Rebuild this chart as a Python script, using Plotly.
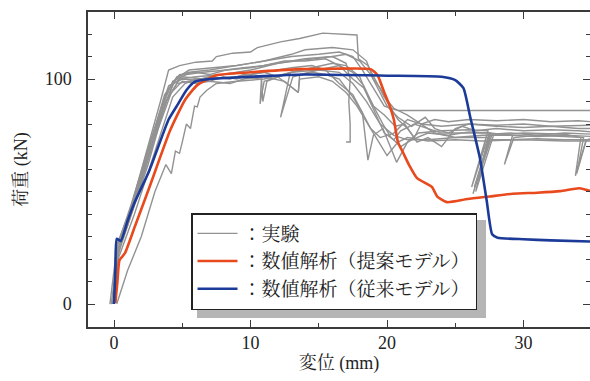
import plotly.graph_objects as go

# ---------------- data ----------------
BLUE_X = [0, 0.1, 0.2, 0.5, 1.0, 1.5, 2.6, 4.0, 4.7, 5.3, 5.9, 7.0, 10.0, 14.0, 20.0, 24.0, 25.0, 25.6,
          26.1, 26.8, 27.3, 27.7, 28.1, 30.0, 32.0, 35.0]
BLUE_Y = [0, 15, 29, 28, 37, 45, 59.5, 82, 89, 95, 98.7, 100, 101, 102, 101.5, 101, 99.5, 96,
          83, 65, 46, 31, 29.5, 28.8, 28.3, 27.8]

RED_X = [0.1, 0.25, 0.4, 0.8, 1.5, 2.6, 4.1, 5.2, 6.1, 7.5, 10.0, 13.6, 16.0, 18.8, 19.3, 19.8, 20.2,
         20.5, 20.8, 21.2, 21.6, 22.2, 22.9, 23.3, 23.7, 24.4, 25.9, 27.5, 29.2, 31.0, 32.7, 34.1, 34.9]
RED_Y = [0.5, 10, 19.5, 22.6, 34, 52, 77, 90.7, 97.3, 101.7, 103, 104.4, 104.6, 104.4, 101.8, 94, 88,
         82, 72, 67, 62, 56, 53.5, 52, 47.6, 45.3, 46.7, 47.8, 49, 49.5, 50.2, 51.5, 50.2]

EXP01_X = [-0.1, 0.2, 1.2, 2.5, 3.4, 4.0, 4.8, 6.0, 7.2, 7.5, 8.7, 10.0, 10.5, 12.2, 13.6, 15.3, 17.8, 17.9,
           18.6, 19.2, 19.8, 20.5, 21.5, 22.5, 24.0, 26.0, 28.0, 30.0, 32.0, 35.0]
EXP01_Y = [0, 22, 42, 70, 90, 104, 106, 107.5, 108, 110, 111.5, 112, 114, 116.5, 118, 120.4, 119.6, 109,
           106, 99, 92, 87, 84, 80, 79, 80, 79.5, 80, 79, 79.5]

EXP02_X = [0, 0.1, 0.5, 1.5, 3.0, 4.2, 4.6, 5.5, 7.0, 9.0, 11.0, 13.0, 15.0, 16.5, 17.5, 18.2, 19.0, 19.8,
           20.8, 21.5, 24.0, 28.0, 32.0, 35.0]
EXP02_Y = [0, 18, 28, 45, 75, 96, 101, 103, 104, 106, 108, 110, 111, 112, 110, 104, 96, 88,
           86, 86, 86, 86, 86, 86]

EXP03_X = [-0.2, 0.3, 1.0, 2.5, 3.8, 4.8, 6.0, 8.0, 10.0, 12.0, 14.0, 16.0, 17.0, 17.3, 17.2, 17.3, 17.3, 17.0]
EXP03_Y = [0, 24, 35, 62, 90, 100, 101, 102, 104, 107, 108.5, 110, 107, 100, 90, 80, 72, 72]

EXP04_X = [0, 0.2, 1.3, 2.8, 4.0, 5.0, 6.0, 7.0, 8.5, 9.5, 10.8, 10.9, 11.2, 12.0, 13.0, 14.5, 16.0, 17.0,
           18.0, 18.6, 19.2, 19.8, 20.5, 21.0, 22.0, 23.0, 24.0, 26.0, 27.5, 26.5, 27.8, 30.0, 33.0, 34.2,
           33.8, 34.6, 35.0]
EXP04_Y = [0, 25, 45, 75, 97, 100, 99.5, 101, 100, 102, 101, 90, 99, 101, 103, 105, 107, 106,
           101, 92, 84, 76, 73, 77, 80, 78, 76, 76, 76, 50, 75, 76, 75.5, 74,
           57, 73, 73]

EXP05_X = [0, 0.3, 1.5, 3.0, 4.3, 5.2, 6.0, 7.0, 8.0, 9.0, 10.0, 11.0, 12.0, 13.5, 13.6, 15.0, 16.5,
           17.5, 18.3, 19.0, 19.7, 20.3, 21.0, 21.8, 23.0, 24.5, 26.0, 27.6, 26.3, 27.7, 29.0, 31.0, 33.0, 35.0]
EXP05_Y = [0, 20, 40, 68, 92, 98, 100, 99, 101, 100, 102, 103, 101, 94, 102, 104, 106,
           103, 97, 88, 80, 74, 70, 73, 76, 75, 76.5, 76, 49, 75.5, 76, 75, 76, 75.5]

EXP06_X = [0.2, 1.0, 2.0, 3.0, 3.8, 4.2, 4.5, 4.8, 5.0, 5.3, 5.6, 5.9, 6.1, 6.3, 6.8, 7.5, 9.0, 11.0, 13.0,
           15.0, 16.5, 17.5, 18.5, 19.5, 20.5, 21.5, 23.0, 25.0, 27.5, 26.4, 27.6, 29.0, 31.0, 33.0, 35.0]
EXP06_Y = [0, 15, 30, 50, 62, 58, 68, 67, 72, 80, 78, 88, 87.6, 92, 95, 98, 99, 100, 103,
           104, 103, 98, 90, 80, 75, 73, 73, 74, 74, 52, 73, 73, 73.5, 73, 73]

EXP07_X = [0, 0.15, 0.8, 2.0, 3.5, 4.5, 5.5, 7.0, 9.0, 11.0, 13.0, 14.0, 16.0, 17.5, 18.5, 19.0, 19.5,
           20.0, 20.8, 21.5, 22.0, 22.5, 23.5, 24.5, 26.0, 28.0, 30.0, 32.0, 34.0, 35.0]
EXP07_Y = [0, 26, 33, 55, 85, 100, 104, 105, 106, 108, 111, 113, 114, 113, 108, 100, 96,
           90, 82, 78, 74, 80, 82, 81, 82, 81.5, 82, 81, 81.5, 81]

EXP08_X = [0, 0.2, 1.0, 2.3, 3.6, 4.6, 5.5, 7.0, 9.0, 11.0, 13.0, 14.5, 15.5, 16.5, 17.5, 18.2, 18.6,
           19.0, 19.7, 20.7, 21.5, 22.3, 24.0, 26.0, 27.4, 26.2, 27.5, 29.2, 28.6, 29.3, 31.0, 33.0,
           34.4, 33.9, 34.6, 35.0]
EXP08_Y = [0, 23, 38, 62, 88, 98, 99, 100, 101, 103, 105, 106, 104, 98, 93, 85, 64,
           75, 78, 63, 72, 76, 77, 77.5, 77, 52, 76, 75, 62, 74, 75, 74.5,
           74, 58, 73, 73.5]

EXP09_X = [0, 0.1, 0.6, 2.0, 3.3, 4.3, 5.3, 6.5, 8.0, 10.0, 12.0, 14.0, 16.0, 17.0, 18.0, 18.8, 19.4,
           20.0, 20.8, 21.8, 22.8, 23.5, 24.5, 25.5, 26.5, 28.0, 30.0, 32.0, 34.0, 35.0]
EXP09_Y = [0, 15, 30, 58, 84, 99, 102, 103, 104, 105, 107, 109, 110, 111, 108, 102, 95,
           88, 83, 79, 83, 78, 76, 79, 77, 78, 77, 77.5, 77, 76.5]

EXP10_X = [-0.3, 0.1, 1.0, 2.4, 3.7, 4.8, 6.0, 7.0, 8.2, 9.5, 11.0, 12.5, 14.0, 15.5, 16.5, 17.5, 18.3,
           19.0, 19.8, 20.6, 21.3, 22.2, 23.0, 24.0, 25.0, 26.0, 28.0, 30.0, 32.0, 34.0, 35.0]
EXP10_Y = [0, 20, 36, 66, 93, 102, 103, 102, 104, 105, 106, 108, 108, 109, 106, 100, 96,
           88, 84, 79, 80, 72, 74, 70, 78, 80, 79, 78.5, 79, 78, 78]

EXP11_X = [0, 0.25, 1.2, 2.7, 4.0, 5.0, 6.5, 8.0, 9.5, 10.8, 10.7, 11.0, 12.9, 12.2, 13.1, 14.5, 15.5,
           16.5, 17.5, 18.2, 18.8, 19.5, 20.5, 21.5, 22.5, 23.5, 25.0, 27.0, 29.0, 31.0, 33.0, 35.0]
EXP11_Y = [0, 27, 42, 72, 96, 101, 100, 100.5, 101, 100, 89, 99, 102.7, 83, 101, 103, 102,
           100, 92, 85, 78, 74, 76, 82, 80, 76, 74, 75, 75, 74.5, 75, 74.5]

EXP12_X = [0, 0.3, 1.5, 3.0, 4.2, 5.0, 6.0, 7.0, 8.5, 9.5, 11.0, 12.5, 13.5, 13.6, 15.0, 16.0, 17.0,
           17.8, 18.6, 19.4, 20.0, 20.8, 21.5, 23.0, 25.0, 27.0, 30.0, 33.0, 35.0]
EXP12_Y = [0, 22, 44, 74, 94, 99, 98, 99, 98, 100, 101, 99, 94, 100, 101, 99, 94,
           88, 80, 72, 66, 72, 74, 72.5, 73, 72.5, 73, 72.5, 72.5]

EXP_X = [EXP01_X, EXP02_X, EXP03_X, EXP04_X, EXP05_X, EXP06_X, EXP07_X, EXP08_X, EXP09_X, EXP10_X, EXP11_X, EXP12_X]
EXP_Y = [EXP01_Y, EXP02_Y, EXP03_Y, EXP04_Y, EXP05_Y, EXP06_Y, EXP07_Y, EXP08_Y, EXP09_Y, EXP10_Y, EXP11_Y, EXP12_Y]

X_TICKS = [0, 10, 20, 30]
Y_TICKS = [0, 100]
LEGEND_NAMES = ["：実験", "：数値解析（提案モデル）", "：数値解析（従来モデル）"]
X_TITLE = "変位 (mm)"
Y_TITLE = "荷重 (kN)"

# ---------------- styling ----------------
FONT = "'Liberation Serif', 'Noto Serif CJK JP', 'Noto Sans CJK JP', serif"
GRAY = "#929292"
RED = "#e8491d"
BLUE = "#1c3b98"
AXIS = "#3a3a3a"

fig = go.Figure()
for i, (xs, ys) in enumerate(zip(EXP_X, EXP_Y)):
    fig.add_trace(go.Scatter(x=xs, y=ys, mode="lines", line=dict(color=GRAY, width=1.4),
                             name=LEGEND_NAMES[0], legendgroup="exp", showlegend=(i == 0),
                             hoverinfo="skip"))
fig.add_trace(go.Scatter(x=RED_X, y=RED_Y, mode="lines", line=dict(color=RED, width=2.6, shape="spline", smoothing=0.5),
                         name=LEGEND_NAMES[1]))
fig.add_trace(go.Scatter(x=BLUE_X, y=BLUE_Y, mode="lines", line=dict(color=BLUE, width=2.6, shape="spline", smoothing=0.5),
                         name=LEGEND_NAMES[2]))
# empty trace carrying the right-hand tick axis
fig.add_trace(go.Scatter(x=[None], y=[None], yaxis="y2", showlegend=False, hoverinfo="skip"))

W, H = 590, 381
L, T, B, R = 88, 12, 54, 0
PW, PH = W - L - R, H - T - B
x_lo = -1.905
x_hi = 34.87
y_lo, y_hi = -10.2, 129.8

fig.update_layout(
    width=W, height=H,
    margin=dict(l=L, r=R, t=T, b=B, pad=0, autoexpand=False),
    paper_bgcolor="white", plot_bgcolor="white",
    font=dict(family=FONT, size=18, color="#222"),
    showlegend=True,
    legend=dict(x=(191 - L) / PW, y=(H - B - 213) / PH,
                xanchor="left", yanchor="top", bgcolor="white",
                bordercolor="#222", borderwidth=1.5,
                font=dict(family=FONT, size=19, color="#222"),
                tracegroupgap=0, itemwidth=40),
    xaxis=dict(range=[x_lo, x_hi], tickvals=X_TICKS, ticks="inside", ticklen=7, tickwidth=1.3,
               tickcolor=AXIS, showline=True, linecolor=AXIS, linewidth=1.5, mirror="ticks",
               showgrid=False, zeroline=False, ticklabelstandoff=-1, automargin=False,
               minor=dict(dtick=5, tick0=0, ticks="inside", ticklen=4, tickcolor=AXIS, tickwidth=1.3),
               title=dict(text=X_TITLE, standoff=4, font=dict(size=18)),
               tickfont=dict(size=18)),
    yaxis=dict(range=[y_lo, y_hi], tickvals=Y_TICKS, ticks="inside", ticklen=7, tickwidth=1.3,
               tickcolor=AXIS, showline=True, linecolor=AXIS, linewidth=1.5, mirror=False,
               showgrid=False, zeroline=False, ticklabelstandoff=11, automargin=False,
               minor=dict(dtick=10, tick0=0, ticks="inside", ticklen=4, tickcolor=AXIS, tickwidth=1.3),
               title=dict(text=Y_TITLE, standoff=12, font=dict(size=18)),
               tickfont=dict(size=18)),
    yaxis2=dict(range=[y_lo, y_hi], overlaying="y", side="right", tickvals=Y_TICKS, ticks="inside",
                ticklen=7, tickwidth=1.3, tickcolor=AXIS, showline=False, showticklabels=False,
                showgrid=False, zeroline=False, automargin=False,
                minor=dict(dtick=10, tick0=0, ticks="inside", ticklen=4, tickcolor=AXIS, tickwidth=1.3)),
)

# legend drop shadow
fig.add_shape(type="rect", xref="paper", yref="paper",
              x0=(197 - L) / PW, x1=(486 - L) / PW,
              y0=(H - B - 318) / PH, y1=(H - B - 220) / PH,
              fillcolor="#b5b5b5", line=dict(width=0), layer="above")

fig.write_html("out.html", config={"displayModeBar": False},
               post_script="document.body.style.margin='0px';document.body.style.overflow='hidden';")
